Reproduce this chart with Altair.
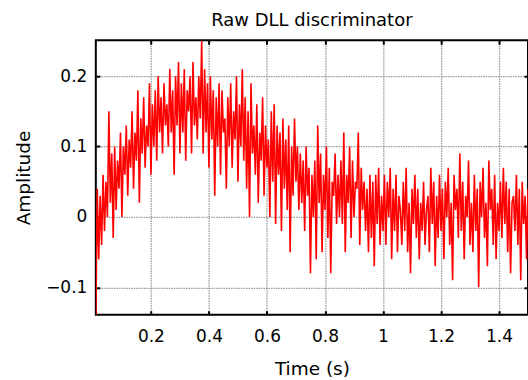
import altair as alt
import pandas as pd

t_start = 0.010
t_step = 0.005

amp_a = [-0.15, 0.04, -0.06, 0.03, -0.04, 0.06, -0.02, 0.05, 0.00, 0.15,
         0.02, 0.09, -0.03, 0.10, 0.01, 0.08, 0.04, 0.12, 0.00, 0.10,
         0.06, 0.13, 0.03, 0.11, 0.07, 0.15, 0.04, 0.12, 0.08, 0.18,
         0.02, 0.14, 0.09, 0.17, 0.07, 0.13, 0.10, 0.19, 0.06, 0.16,
         0.10, 0.18, 0.08, 0.20, 0.12, 0.17, 0.09, 0.19, 0.13, 0.16]
amp_b = [0.10, 0.21, 0.12, 0.18, 0.06, 0.20, 0.13, 0.22, 0.09, 0.19,
         0.12, 0.21, 0.08, 0.18, 0.15, 0.20, 0.09, 0.22, 0.13, 0.17,
         0.11, 0.20, 0.14, 0.25, 0.09, 0.21, 0.12, 0.19, 0.07, 0.20,
         0.11, 0.18, 0.03, 0.17, 0.10, 0.19, 0.06, 0.18, 0.12, 0.14,
         0.04, 0.17, 0.10, 0.19, 0.07, 0.15, 0.11, 0.20, 0.05, 0.16]
amp_c = [0.10, 0.21, 0.08, 0.17, 0.04, 0.15, 0.00, 0.19, 0.09, 0.13,
         0.06, 0.16, 0.02, 0.12, 0.08, 0.17, 0.03, 0.13, 0.07, 0.11,
         0.00, 0.15, 0.05, 0.16, -0.01, 0.13, 0.06, 0.12, -0.02, 0.14,
         0.04, 0.11, 0.01, 0.13, -0.05, 0.10, 0.03, 0.14, 0.05, 0.10,
         0.01, 0.09, 0.02, 0.08, -0.02, 0.10, 0.03, 0.07, -0.08, 0.06]
amp_d = [0.00, 0.08, -0.06, 0.13, 0.02, 0.09, -0.05, 0.06, 0.01, 0.10,
         -0.03, 0.07, -0.08, 0.05, 0.03, 0.09, -0.01, 0.06, 0.00, 0.08,
         -0.01, 0.12, -0.05, 0.06, 0.02, 0.10, -0.03, 0.08, 0.00, 0.05,
         0.04, 0.12, -0.04, 0.07, 0.01, 0.05, -0.02, 0.04, -0.05, 0.06,
         -0.03, 0.05, -0.07, 0.06, -0.01, 0.07, -0.04, 0.03, -0.02, 0.06]
amp_e = [-0.04, 0.05, 0.00, 0.07, -0.06, 0.04, -0.02, 0.06, -0.05, 0.03,
         0.01, -0.04, 0.05, -0.02, 0.07, -0.05, 0.02, -0.08, 0.04, -0.01,
         0.06, -0.03, 0.04, -0.06, 0.02, -0.02, 0.05, -0.04, 0.01, 0.03,
         -0.05, 0.07, -0.01, 0.05, -0.07, 0.03, -0.03, 0.06, -0.02, 0.04,
         -0.06, 0.05, 0.00, 0.07, -0.04, 0.02, -0.09, 0.06, 0.01, 0.04]
amp_f = [-0.03, 0.09, -0.02, 0.05, -0.06, 0.03, 0.00, 0.08, -0.04, 0.02,
         -0.05, 0.06, -0.02, 0.04, -0.10, 0.05, 0.00, 0.07, -0.03, 0.02,
         -0.07, 0.08, 0.01, 0.04, -0.04, 0.06, -0.06, 0.02, -0.02, 0.05,
         -0.03, 0.07, -0.01, 0.05, -0.05, 0.04, -0.08, 0.02, 0.03, -0.02,
         0.06, -0.04, 0.04, -0.09, 0.05, -0.01, 0.03, -0.06, 0.04, 0.00]

amplitude = amp_a + amp_b + amp_c + amp_d + amp_e + amp_f
time = [round(t_start + i * t_step, 4) for i in range(len(amplitude))]

x_ticks = [0.2, 0.4, 0.6, 0.8, 1.0, 1.2, 1.4]
y_ticks = [-0.1, 0.0, 0.1, 0.2]
x_domain = [0.01, 1.5]
y_domain = [-0.139, 0.251]

df = pd.DataFrame({"t": time, "a": amplitude})

W, H = 433, 275
FONT = "DejaVu Sans"

xs = alt.Scale(domain=x_domain, nice=False, zero=False)
ys = alt.Scale(domain=y_domain, nice=False, zero=False)

main = alt.Chart(df).mark_line(color="#ff0000", strokeWidth=1.6, clip=True).encode(
    x=alt.X("t:Q", scale=xs, title="Time (s)",
            axis=alt.Axis(orient="bottom", values=x_ticks, ticks=False, labelPadding=14,
                          titlePadding=15, grid=True, labelFlush=False, format="~g")),
    y=alt.Y("a:Q", scale=ys, title="Amplitude",
            axis=alt.Axis(orient="left", values=y_ticks, ticks=False, labelPadding=9,
                          titlePadding=12, grid=True, format="~g")),
)

def tick_layer(xorient, yorient):
    return alt.Chart(df).mark_line(opacity=0, clip=True).encode(
        x=alt.X("t:Q", scale=xs, title=None,
                axis=alt.Axis(orient=xorient, offset=-H, values=x_ticks, labels=False,
                              grid=False, domain=False, ticks=True, tickSize=4,
                              tickWidth=2, tickColor="black")),
        y=alt.Y("a:Q", scale=ys, title=None,
                axis=alt.Axis(orient=yorient, offset=-W, values=y_ticks, labels=False,
                              grid=False, domain=False, ticks=True, tickSize=4,
                              tickWidth=2, tickColor="black")),
    )

chart = alt.layer(main, tick_layer("top", "right"), tick_layer("bottom", "left")).resolve_axis(
    x="independent", y="independent"
).properties(
    width=W, height=H,
    title=alt.TitleParams("Raw DLL discriminator", font=FONT, fontSize=18,
                          fontWeight="normal", color="black", offset=9),
    autosize=alt.AutoSizeParams(type="none"),
    padding={"left": 96, "top": 40, "right": 0, "bottom": 65},
).configure_view(
    stroke="black", strokeWidth=2
).configure_axis(
    domain=False,
    labelFont=FONT, labelFontSize=17, labelColor="black",
    titleFont=FONT, titleFontSize=18.5, titleFontWeight="normal", titleColor="black",
    gridColor="#808080", gridDash=[1.5, 1], gridWidth=1.3, gridOpacity=0.8,
)

chart.save("out.html", embed_options={"renderer": "svg", "actions": False})
